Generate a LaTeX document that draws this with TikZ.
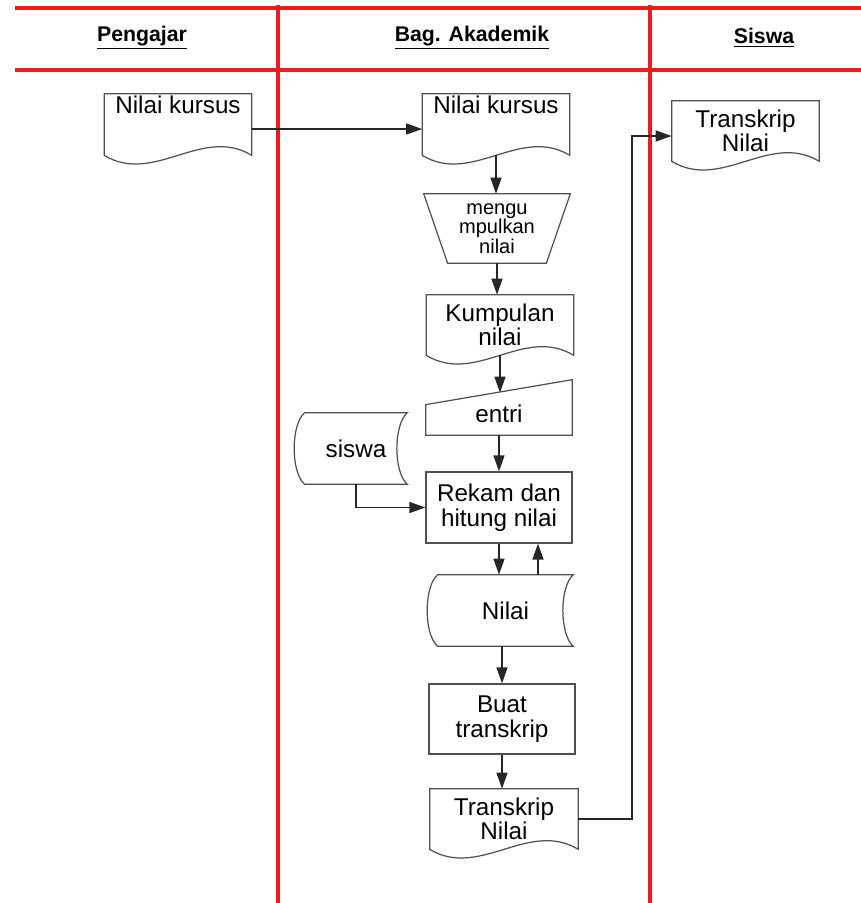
\documentclass[tikz,border=0pt]{standalone}
\usepackage{fontspec}
\setmainfont{Liberation Sans}
\usetikzlibrary{arrows.meta,calc}
\definecolor{laneRed}{RGB}{245,25,30}
\definecolor{shapeGray}{RGB}{80,80,80}

% outlines of the flowchart symbols, drawn round a named node
\newcommand{\docoutline}[1]{%
  \draw[shapeline] (#1.south west) -- (#1.north west) -- (#1.north east) -- (#1.south east)
    .. controls +(-50,-30) and +(50,30) .. (#1.south west) -- cycle;}
\newcommand{\manualop}[1]{%
  \draw[shapeline] (#1.north west) -- (#1.north east) -- ([xshift=-0.48cm]#1.south east)
    -- ([xshift=0.48cm]#1.south west) -- cycle;}
\newcommand{\manualin}[1]{%
  \draw[shapeline] ([yshift=-0.24cm]#1.north west) -- ([yshift=0.26cm]#1.north east)
    -- (#1.south east) -- (#1.south west) -- cycle;}
\newcommand{\storeddata}[1]{%
  \draw[shapeline] (#1.north west) .. controls +(-14,12) and +(-14,-12) .. (#1.south west)
    -- (#1.south east) .. controls +(-14,-12) and +(-14,12) .. (#1.north east) -- cycle;}

\begin{document}
\begin{tikzpicture}[x=0.02cm, y=-0.02cm, every node/.style={font=\fontsize{13.8}{14}\selectfont}]
  \tikzset{
    lane/.style={draw=laneRed, line width=1.8pt},
    lanehead/.style={font=\fontsize{12.1}{14}\selectfont\bfseries},
    shapeline/.style={draw=shapeGray, line width=0.7pt},
    shapebox/.style={inner sep=0pt, minimum width=2.92cm, align=center},
    docbox/.style={shapebox, minimum width=2.94cm, minimum height=1.2cm},
    procbox/.style={shapebox, shapeline, minimum height=1.4cm},
    flow/.style={draw=black!85, line width=0.8pt, -{Triangle[length=0.32cm,width=0.22cm]}}
  }
  \useasboundingbox (0,0) rectangle (861,903);

  % swimlanes
  \draw[lane] (15,8) -- (861,8);
  \draw[lane] (15,70) -- (861,70);
  \draw[lane] (278,5) -- (278,903);
  \draw[lane] (650,5) -- (650,903);
  \node[lanehead] (hPengajar) at (142,38) {\underline{Pengajar}};
  \node[lanehead] (hAkademik) at (472,38) {\underline{Bag. Akademik}};
  \node[lanehead] (hSiswa)    at (764,38) {\underline{Siswa}};

  \node[docbox, text height=0.38cm, text depth=0.84cm] (nkP) at (178,124.5) {Nilai kursus};
  \node[docbox, text height=0.38cm, text depth=0.84cm] (nkA) at (496,124.5) {Nilai kursus};
  \node[shapebox, minimum height=1.38cm, font=\fontsize{11.4}{11.2}\selectfont] (gabung) at (497,228.5) {mengu\\mpulkan\\nilai};
  \node[docbox] (kumpul) at (500,325) {Kumpulan\\nilai};
  \node[shapebox, minimum height=0.84cm] (entri) at (499,414) {entri};
  \node[shapebox, minimum width=2.04cm, minimum height=1.42cm] (siswa) at (356,448.5) {siswa};
  \node[procbox, minimum height=1.42cm] (rekam) at (499,507.5) {Rekam dan\\hitung nilai};
  \node[shapebox, minimum width=2.7cm, minimum height=1.42cm] (nilai) at (505.5,610.5) {Nilai};
  \node[procbox] (buat) at (502,719) {Buat\\transkrip};
  \node[docbox, minimum width=2.96cm] (trA) at (504,819) {Transkrip\\Nilai};
  \node[docbox] (trS) at (745.5,131) {Transkrip\\Nilai};
  \coordinate (bend) at (632,480);

  \docoutline{nkP}
  \docoutline{nkA}
  \manualop{gabung}
  \docoutline{kumpul}
  \manualin{entri}
  \storeddata{siswa}
  \storeddata{nilai}
  \docoutline{trA}
  \docoutline{trS}

  \draw[flow] ([yshift=-0.09cm]nkP.east) -- ([yshift=-0.09cm]nkA.west);
  \draw[flow] (nkA.south) -- (nkA.south |- gabung.north);
  \draw[flow] (gabung.south) -- (gabung.south |- kumpul.north);
  \draw[flow] (kumpul.south) -- (kumpul.south |- entri.north);
  \draw[flow] (entri.south) -- (rekam.north);
  \draw[flow] (siswa.south) |- (rekam.west);
  \draw[flow] (rekam.south) -- (rekam.south |- nilai.north);
  \draw[flow] ([xshift=0.78cm]rekam.south |- nilai.north) -- ([xshift=0.78cm]rekam.south);
  \draw[flow] (nilai.south -| buat.north) -- (buat.north);
  \draw[flow] (buat.south) -- (buat.south |- trA.north);
  \draw[flow] (trA.east) -| (bend) |- ([yshift=-0.1cm]trS.west);
\end{tikzpicture}
\end{document}
